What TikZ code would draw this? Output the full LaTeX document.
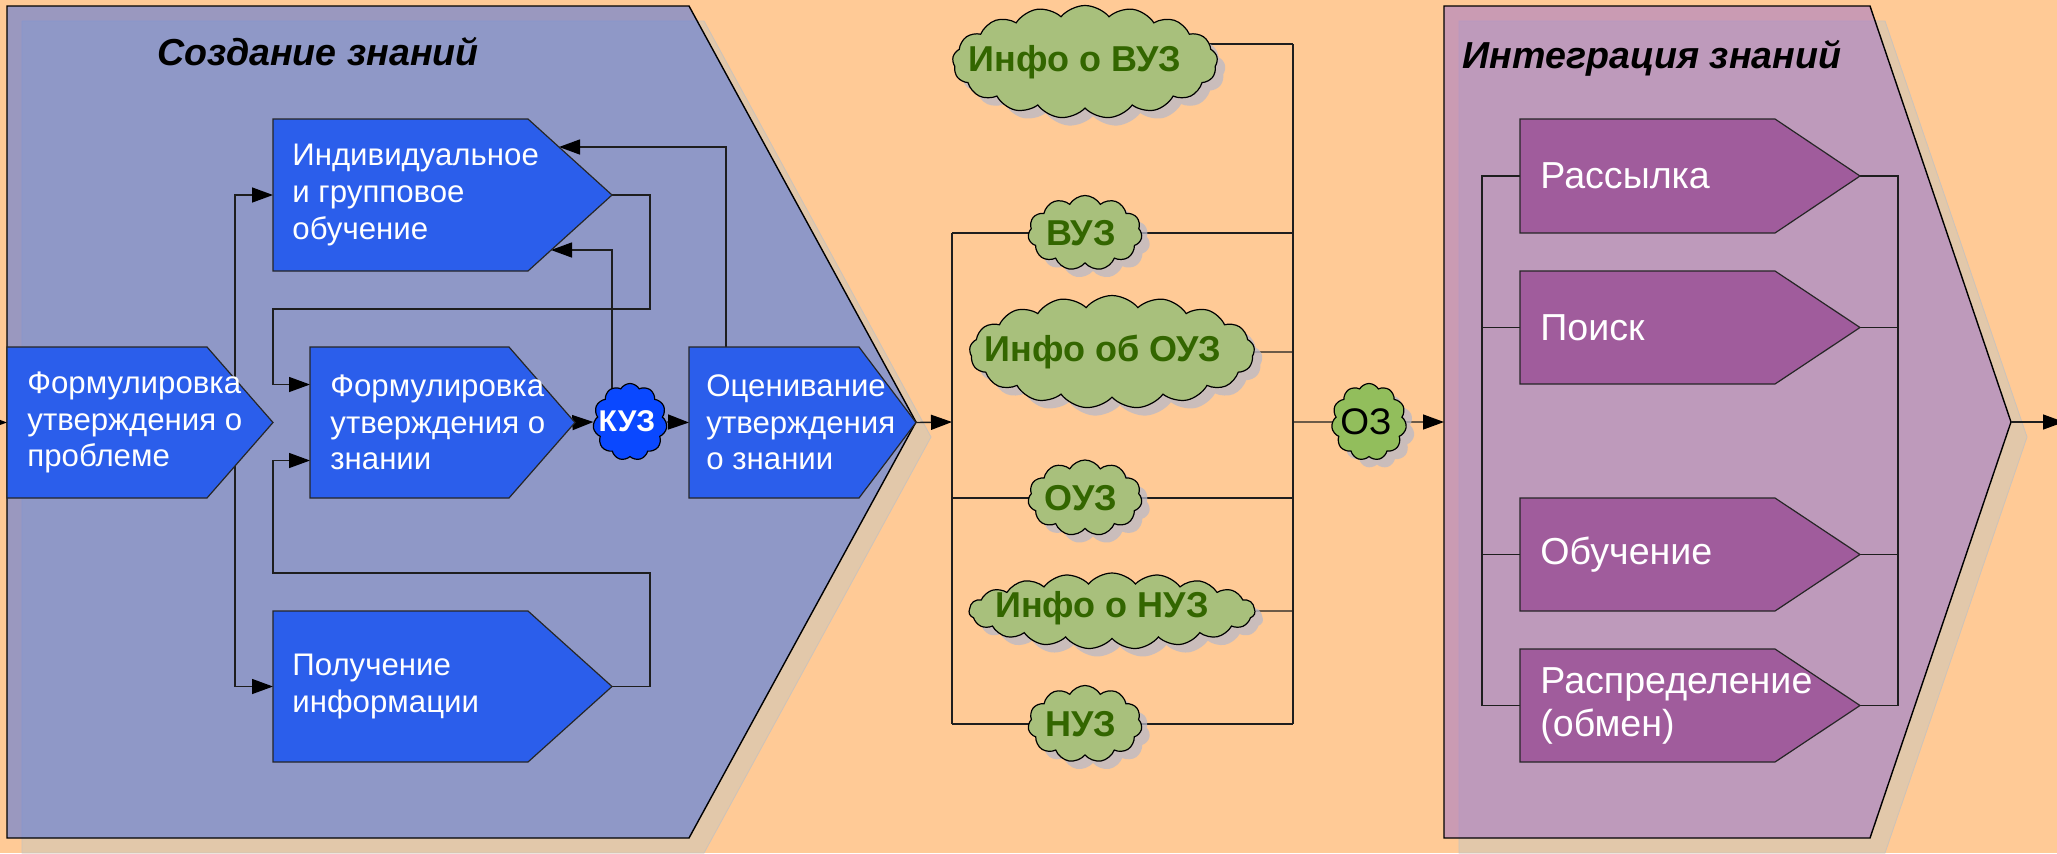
\documentclass[tikz,border=0pt]{standalone}
\usepackage{fontspec}
\setmainfont{Liberation Sans}
\usetikzlibrary{shapes.symbols,shadows,arrows.meta,calc}
\pgfdeclarelayer{back}
\pgfdeclarelayer{lines}
\pgfsetlayers{back,lines,main}
\definecolor{bgpeach}{RGB}{255,202,150}
\definecolor{shtan}{RGB}{226,200,170}
\definecolor{shedge}{RGB}{205,195,185}
\definecolor{bpanel}{RGB}{88,120,219}
\definecolor{ppanel}{RGB}{167,124,199}
\definecolor{bboxc}{RGB}{43,94,235}
\definecolor{pboxc}{RGB}{160,92,156}
\definecolor{cgreen}{RGB}{168,192,124}
\definecolor{ozgreen}{RGB}{146,190,92}
\definecolor{kuzblue}{RGB}{10,72,255}
\definecolor{dgreen}{RGB}{51,102,0}
\definecolor{lnc}{RGB}{30,30,30}
\definecolor{cshadow}{RGB}{185,185,200}
\newcommand{\mychev}[2]{\filldraw[#1] (#2.north west) -- (#2.north east) -- (#2-tip) -- (#2.south east) -- (#2.south west) -- cycle;}
\begin{document}
\begin{tikzpicture}[x=0.5pt,y=-0.5pt,
  conn/.style={draw=lnc, line width=0.7pt},
  arr/.style={conn, -{Triangle[length=10.5pt,width=7.5pt,fill=black,color=black]}},
  body/.style={inner sep=0pt, outer sep=0pt},
  chb/.style={fill=bboxc, draw=black!85, line width=0.6pt},
  chp/.style={fill=pboxc, draw=black!85, line width=0.6pt},
  btxt/.style={text=white, font=\fontsize{15.6}{18.3}\selectfont, align=left, anchor=west, inner sep=0pt},
  ptxt/.style={text=white, font=\fontsize{18.8}{21.5}\selectfont, align=left, anchor=west, inner sep=0pt},
  clbase/.style={cloud, cloud puffs=11, cloud puff arc=120, cloud ignores aspect, draw=black, line width=0.6pt, fill=cgreen, inner sep=0pt},
  cl/.style={clbase, drop shadow={shadow xshift=4pt, shadow yshift=-4pt, fill=cshadow, opacity=0.75}},
  wide/.style={cloud puffs=17, cloud puff arc=100},
  cltxt/.style={text=dgreen, font=\fontsize{18}{20}\selectfont\bfseries, inner sep=0pt},
  ttl/.style={font=\fontsize{18.8}{22}\selectfont\bfseries\itshape, inner sep=0pt, anchor=base}
]
\clip (0,0) rectangle (2057,853);
\begin{pgfonlayer}{back}
\fill[bgpeach] (0,0) rectangle (2057,853);
% blue panel
\filldraw[fill=shtan, draw=shedge, line width=0.4pt] (22,21) -- (704,21) -- (931,437) -- (704,853) -- (22,853) -- cycle;
\filldraw[fill=bpanel, fill opacity=0.6, draw=black, line width=0.7pt] (7,6) -- (689,6) -- (916,422) -- (689,838) -- (7,838) -- cycle;
% purple panel
\filldraw[fill=shtan, draw=shedge, line width=0.4pt] (1459,21) -- (1885,21) -- (2027,437) -- (1885,853) -- (1459,853) -- cycle;
\filldraw[fill=ppanel, fill opacity=0.6, draw=black, line width=0.7pt] (1444,6) -- (1870,6) -- (2011,422) -- (1870,838) -- (1444,838) -- cycle;
\end{pgfonlayer}
\coordinate (ppw) at (1444,422);
\coordinate (ppt) at (2011,422);

\node[ttl] (tcz) at (318,65) {Создание знаний};
\node[ttl] (tiz) at (1652,68) {Интеграция знаний};

% ---- blue chevrons (bodies)
\node[body, minimum width=100pt, minimum height=75.5pt, anchor=north west] (prob) at (7,347) {};
\coordinate (prob-tip) at ($(prob.east)+(66,0)$);
\node[body, minimum width=127.5pt, minimum height=76pt, anchor=north west] (ind) at (273,119) {};
\coordinate (ind-tip) at ($(ind.east)+(84,0)$);
\node[body, minimum width=99.5pt, minimum height=75.5pt, anchor=north west] (zn) at (310,347) {};
\coordinate (zn-tip) at ($(zn.east)+(66,0)$);
\node[body, minimum width=85pt, minimum height=75.5pt, anchor=north west] (ots) at (689,347) {};
\coordinate (ots-tip) at ($(ots.east)+(57,0)$);
\node[body, minimum width=127.5pt, minimum height=75.5pt, anchor=north west] (pol) at (273,611) {};
\coordinate (pol-tip) at ($(pol.east)+(84,0)$);

% ---- purple chevrons (bodies)
\node[body, minimum width=127.5pt, minimum height=57pt, anchor=north west] (ras) at (1520,119) {};
\coordinate (ras-tip) at ($(ras.east)+(85,0)$);
\node[body, minimum width=127.5pt, minimum height=56.5pt, anchor=north west] (poi) at (1520,271) {};
\coordinate (poi-tip) at ($(poi.east)+(85,0)$);
\node[body, minimum width=127.5pt, minimum height=56.5pt, anchor=north west] (obu) at (1520,498) {};
\coordinate (obu-tip) at ($(obu.east)+(85,0)$);
\node[body, minimum width=127.5pt, minimum height=56.5pt, anchor=north west] (rsp) at (1520,649) {};
\coordinate (rsp-tip) at ($(rsp.east)+(85,0)$);

\mychev{chb}{prob}
\mychev{chb}{ind}
\mychev{chb}{zn}
\mychev{chb}{ots}
\mychev{chb}{pol}
\mychev{chp}{ras}
\mychev{chp}{poi}
\mychev{chp}{obu}
\mychev{chp}{rsp}

\node[btxt] (prob-t) at ($(prob.west)+(20,0)$) {Формулировка\\утверждения о\\проблеме};
\node[btxt] (ind-t) at ($(ind.west)+(19,0)$) {Индивидуальное\\и групповое\\обучение};
\node[btxt] (zn-t) at ($(zn.west)+(20,0)$) {Формулировка\\утверждения о\\знании};
\node[btxt] (ots-t) at ($(ots.west)+(17,0)$) {Оценивание\\утверждения\\о знании};
\node[btxt] (pol-t) at ($(pol.west)+(19,0)$) {Получение\\информации};
\node[ptxt] (ras-t) at ($(ras.west)+(20,0)$) {Рассылка};
\node[ptxt] (poi-t) at ($(poi.west)+(20,0)$) {Поиск};
\node[ptxt] (obu-t) at ($(obu.west)+(20,0)$) {Обучение};
\node[ptxt] (rsp-t) at ($(rsp.west)+(20,0)$) {Распределение\\(обмен)};

% ---- clouds
\node[clbase, fill=kuzblue, minimum width=37pt, minimum height=38.5pt] (kuz) at (630,422) {};
\node[text=white, font=\fontsize{15}{17}\selectfont\bfseries, inner sep=0pt] (kuz-t) at (627,421) {КУЗ};
\node[cl, wide, minimum width=132.5pt, minimum height=56.5pt] (ivuz) at (1085,62) {};
\node[cl, minimum width=57pt, minimum height=37.5pt] (vuz) at (1085,233) {};
\node[cl, wide, minimum width=142.5pt, minimum height=56.5pt] (iouz) at (1112,352) {};
\node[cl, minimum width=57pt, minimum height=38pt] (ouz) at (1085,498) {};
\node[cl, wide, cloud puffs=19, minimum width=143pt, minimum height=38pt] (inuz) at (1112,611) {};
\node[cl, minimum width=57pt, minimum height=38.5pt] (nuz) at (1085,724) {};
\node[cl, fill=ozgreen, minimum width=37.5pt, minimum height=38.5pt] (oz) at (1369,422) {};
\node[cltxt] (ivuz-t) at ($(ivuz)+(-10,0)$) {Инфо о ВУЗ};
\node[cltxt] (vuz-t) at ($(vuz)+(-4,0)$) {ВУЗ};
\node[cltxt] (iouz-t) at ($(iouz)+(-9,0)$) {Инфо об ОУЗ};
\node[cltxt] (ouz-t) at ($(ouz)+(-4,0)$) {ОУЗ};
\node[cltxt] (inuz-t) at ($(inuz)+(-10,-3)$) {Инфо о НУЗ};
\node[cltxt] (nuz-t) at ($(nuz)+(-4,0)$) {НУЗ};
\node[font=\fontsize{18.5}{20}\selectfont, inner sep=0pt] (oz-t) at ($(oz)+(-3,0)$) {ОЗ};

% ---- connectors
\coordinate (inL) at (-40,422);
\coordinate (pb) at (235,422);
\coordinate (ind-s1) at (559,147);
\coordinate (ind-s2) at (551,250);
\coordinate (kuz-a) at (612,422);
\coordinate (ots-a) at (726,422);
\coordinate (lb0) at (952,422);
\coordinate (lb1) at (952,233);
\coordinate (lb2) at (952,724);
\coordinate (rb1) at (1293,44);
\coordinate (rb2) at (1293,724);
\coordinate (ivuz-e) at (1195,44);
\coordinate (plx) at (1482,0);
\coordinate (prx) at (1898,0);
\coordinate (outR) at (2064,422);
\begin{pgfonlayer}{lines}
\draw[arr] (inL) -- (prob.west);
\draw[arr] (pb) |- (ind.west);
\draw[arr] (pb) |- (pol.west);
\draw[arr] (ind-tip) -- (650,195) |- (273,309) |- ($(zn.west)+(0,-38)$);
\draw[arr] (pol-tip) -- (650,686.5) |- (273,573) |- ($(zn.west)+(0,38)$);
\draw[arr] (zn-tip) -- (kuz.west);
\draw[arr] (kuz.east) -- (ots.west);
\draw[arr] (kuz-a) |- (ind-s2);
\draw[arr] (ots-a) |- (ind-s1);
\draw[arr] (ots-tip) -- (lb0);
\draw[conn] (lb1) -- (lb2);
\draw[conn] (rb1) -- (rb2);
\draw[conn] (lb1) -- (lb1 -| rb1);
\draw[conn] (lb1 |- ouz) -- (ouz -| rb1);
\draw[conn] (lb2) -- (rb2);
\draw[conn] (ivuz-e) -- (rb1);
\draw[conn] (iouz) -- (iouz -| rb1);
\draw[conn] (inuz) -- (inuz -| rb1);
\draw[conn] (rb1 |- oz) -- (oz);
\draw[arr] (oz.east) -- (ppw);
\draw[conn] (ras.west) -| (plx |- rsp.west) -- (rsp.west);
\draw[conn] (poi.west) -- (plx |- poi.west);
\draw[conn] (obu.west) -- (plx |- obu.west);
\draw[conn] (ras-tip) -| (prx |- rsp-tip) -- (rsp-tip);
\draw[conn] (poi-tip) -- (prx |- poi-tip);
\draw[conn] (obu-tip) -- (prx |- obu-tip);
\draw[arr] (ppt) -- (outR);
\end{pgfonlayer}
\end{tikzpicture}
\end{document}
